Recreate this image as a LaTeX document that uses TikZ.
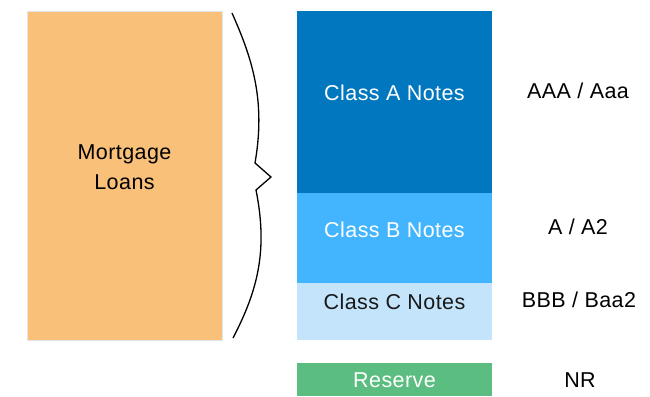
\documentclass[tikz,border=0pt]{standalone}
\usepackage{fontspec}
\setmainfont{Liberation Sans}[LetterSpace=2]
\definecolor{loanorange}{HTML}{F9C07A}
\definecolor{classA}{HTML}{0077BE}
\definecolor{classB}{HTML}{42B5FE}
\definecolor{classC}{HTML}{C3E4FB}
\definecolor{reserve}{HTML}{5BBD80}
\begin{document}
\begin{tikzpicture}[x=1pt,y=-1pt,
  txt/.style={font=\fontsize{21.5}{30}\selectfont, inner sep=0pt, align=center},
  block/.style={inner sep=0pt, minimum width=195pt},
  rating/.style={txt}]
\useasboundingbox (0,0) rectangle (650,396);
\node[block, fill=loanorange, draw=black!10, line width=0.6pt, minimum height=329pt] (loans) at (124.5,175.5) {};
\node[txt] (loanst) at (124.5,167) {Mortgage\\Loans};
\node[block, fill=classA, minimum height=182pt] (A) at (394.5,102) {};
\node[txt, text=white] (At) at (394.5,93) {Class A Notes};
\node[block, fill=classB, minimum height=90pt] (B) at (394.5,238) {};
\node[txt, text=white] (Bt) at (394.5,230) {Class B Notes};
\node[block, fill=classC, minimum height=57pt] (C) at (394.5,311.5) {};
\node[txt, text=black!90] (Ct) at (394.5,302) {Class C Notes};
\node[block, fill=reserve, minimum height=33pt] (R) at (394.5,379.5) {};
\node[txt, text=white] (Rt) at (394.5,380) {Reserve};
\node[rating] (rA) at (578,91) {AAA / Aaa};
\node[rating] (rB) at (578,227) {A / A2};
\node[rating] (rC) at (579,300) {BBB / Baa2};
\node[rating] (rR) at (580,380) {NR};
\draw[line width=1.3pt, line join=miter] (232,13) .. controls (252,58) and (266,100) .. (255,163) -- (271,177) -- (256,190) .. controls (268,250) and (258,290) .. (233,338);
\end{tikzpicture}
\end{document}
